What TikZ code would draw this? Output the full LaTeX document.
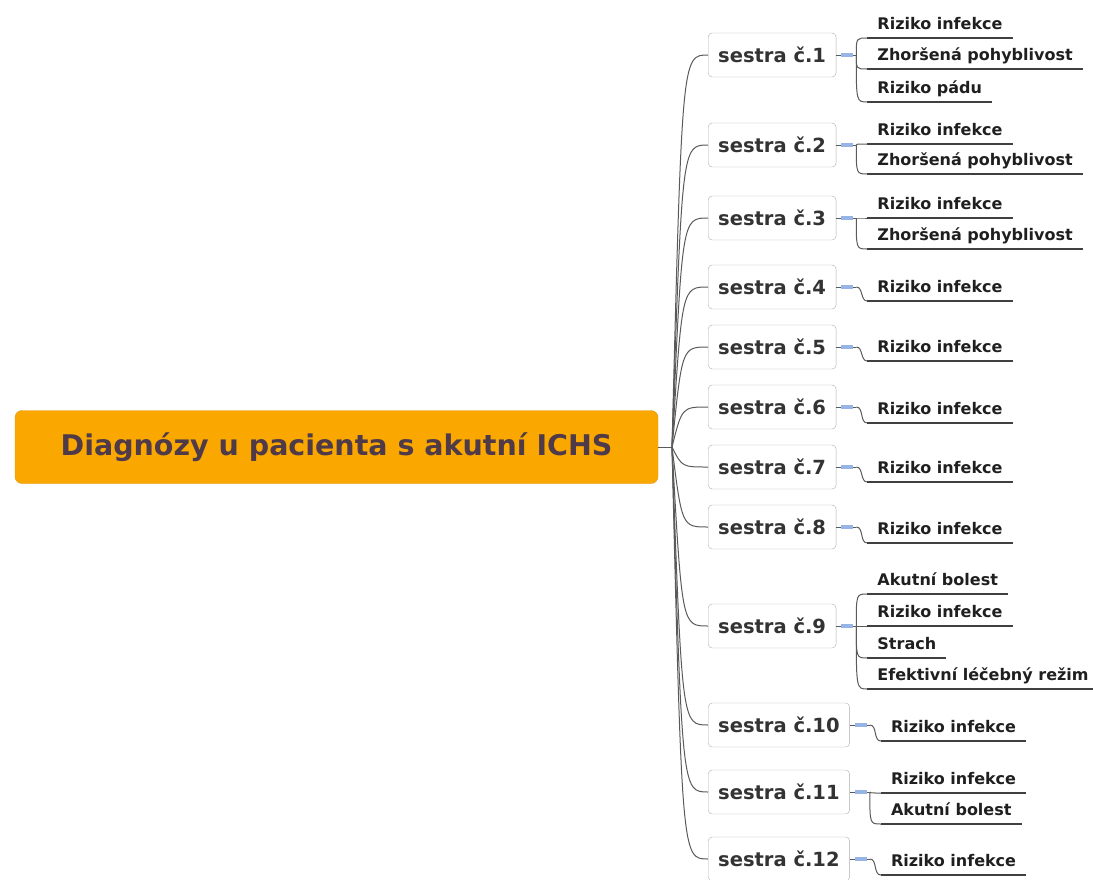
\documentclass[tikz,border=0pt]{standalone}
\usepackage{fontspec}
\setmainfont{DejaVu Sans}

\definecolor{rootfill}{RGB}{250,168,0}
\definecolor{rootline}{RGB}{225,150,20}
\definecolor{roottext}{RGB}{78,58,72}
\definecolor{linkgray}{RGB}{90,90,90}
\definecolor{boxline}{RGB}{175,175,175}
\definecolor{foldblue}{RGB}{150,180,230}

\tikzset{
    root/.style={draw=rootline, fill=rootfill, rounded corners=7pt,
        minimum width=643pt, minimum height=73pt, text=roottext,
        font=\fontsize{28.5}{33}\selectfont\bfseries},
    nurse/.style={draw=boxline, fill=white, rounded corners=4pt, anchor=west,
        minimum height=44pt, inner xsep=10pt, text=black!80,
        font=\fontsize{19.5}{22}\selectfont\bfseries},
    leaf/.style={anchor=south west, inner xsep=10pt, inner ysep=5pt,
        text height=11pt, text depth=3.5pt, text=black!88,
        font=\fontsize{16}{18}\selectfont\bfseries},
    link/.style={draw=linkgray, line width=1pt},
    uline/.style={draw=black!75, line width=1.4pt},
    fold/.style={draw=foldblue, line width=3.5pt},
    fork/.style={to path={.. controls (\tikztostart |- \tikztotarget) .. (\tikztotarget)}},
    slide/.style={out=0, in=180}
}

\begin{document}
\begin{tikzpicture}[x=1pt, y=-1pt]
    \useasboundingbox (0,0) rectangle (1093,879);

    % central topic
    \node [root] (root) at (336.5,447) {Diagnózy u pacienta s akutní ICHS};
    \coordinate (hub) at (672,447);
    \coordinate (hubc) at (682,447);
    \draw [link] (root.east) -- (hub);

    % nurses
    \foreach \i/\y in {1/55, 2/145, 3/218, 4/287, 5/347, 6/407,
                       7/467, 8/527, 9/626, 10/725, 11/792, 12/859}{
        \node [nurse] (s\i) at (708,\y) {sestra č.\i};
        \draw [link] (hub) .. controls (hubc |- s\i.west) .. (s\i.west);
        \coordinate (f\i) at ([xshift=20pt]s\i.east);
        \coordinate (g\i) at ([xshift=31pt]s\i.east);
        \draw [link] (s\i.east) -- (f\i);
        \draw [fold] ([xshift=5pt]s\i.east) -- ++(12,0);
    }

    % diagnoses
    \foreach \i/\k/\y/\t/\bend in {
        1/1/38/Riziko infekce/fork, 1/2/69/Zhoršená pohyblivost/fork,
        1/3/102/Riziko pádu/fork,
        2/1/144/Riziko infekce/fork, 2/2/174/Zhoršená pohyblivost/fork,
        3/1/218/Riziko infekce/fork, 3/2/249/Zhoršená pohyblivost/fork,
        4/1/301/Riziko infekce/slide, 5/1/361/Riziko infekce/slide,
        6/1/423/Riziko infekce/slide, 7/1/482/Riziko infekce/slide,
        8/1/543/Riziko infekce/slide,
        9/1/594/Akutní bolest/fork, 9/2/626/Riziko infekce/fork,
        9/3/658/Strach/fork, 9/4/689/Efektivní léčebný režim/fork,
        10/1/741/Riziko infekce/slide,
        11/1/793/Riziko infekce/fork, 11/2/824/Akutní bolest/fork,
        12/1/875/Riziko infekce/slide}{
        \node [leaf] (l\i-\k) at (g\i |- 0,\y) {\t};
        \draw [uline] (l\i-\k.south west) -- (l\i-\k.south east);
        \draw [link] (f\i) to [\bend] (l\i-\k.south west);
    }
\end{tikzpicture}
\end{document}
